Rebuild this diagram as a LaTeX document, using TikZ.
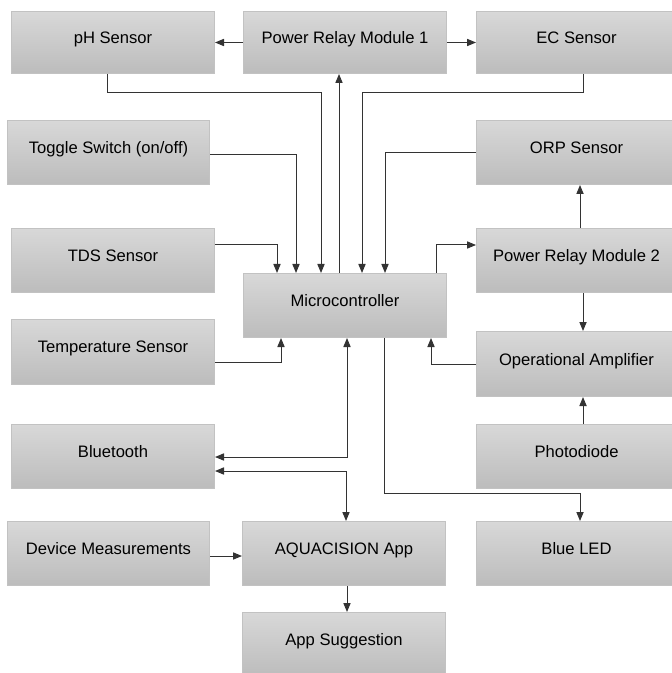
\documentclass[tikz,border=0pt]{standalone}
\usepackage{fontspec}
\setmainfont{Liberation Sans}
\usetikzlibrary{arrows.meta}
\definecolor{boxtop}{HTML}{D8D8D8}
\definecolor{boxbot}{HTML}{BCBCBC}
\definecolor{boxline}{HTML}{C2C2C2}
\definecolor{wire}{HTML}{333333}
\begin{document}
\begin{tikzpicture}[x=0.5pt,y=-0.5pt,
  box/.style={draw=boxline, line width=0.5pt, top color=boxtop, bottom color=boxbot,
    anchor=north west, inner sep=0pt, font=\fontsize{8.3pt}{10pt}\selectfont, text=black},
  arr/.style={draw=wire, line width=0.5pt, -{Triangle[length=4.5pt,width=3.6pt]}},
  darr/.style={draw=wire, line width=0.5pt, {Triangle[length=4.5pt,width=3.6pt]}-{Triangle[length=4.5pt,width=3.6pt]}},
  line/.style={draw=wire, line width=0.5pt}]
\useasboundingbox (0,0) rectangle (672,673);
% boxes: width/height in px * 0.5pt
\newcommand{\mybox}[7]{\node[box, minimum width=#4*0.5pt, minimum height=#5*0.5pt] (#1) at (#2,#3) {\raisebox{#7}{#6}};}
\mybox{ph}{11}{11}{203}{62}{pH Sensor}{5pt}
\mybox{prm1}{243}{11}{203}{62}{Power Relay Module 1}{5pt}
\mybox{ec}{476}{11}{200}{62}{EC Sensor}{5pt}
\mybox{toggle}{7}{120}{202}{64}{Toggle Switch (on/off)}{5pt}
\mybox{orp}{476}{120}{200}{64}{ORP Sensor}{5pt}
\mybox{tds}{11}{228}{203}{64}{TDS Sensor}{5pt}
\mybox{prm2}{476}{228}{200}{64}{Power Relay Module 2}{5pt}
\mybox{micro}{243}{273}{203}{64}{Microcontroller}{5pt}
\mybox{temp}{11}{319}{203}{65}{Temperature Sensor}{5pt}
\mybox{opamp}{476}{331}{200}{65}{Operational Amplifier}{5pt}
\mybox{bt}{11}{424}{203}{64}{Bluetooth}{5pt}
\mybox{photo}{476}{424}{200}{64}{Photodiode}{5pt}
\mybox{dev}{7}{521}{202}{64}{Device Measurements}{5pt}
\mybox{app}{242}{521}{203}{64}{AQUACISION App}{5pt}
\mybox{led}{476}{521}{200}{64}{Blue LED}{5pt}
\mybox{sugg}{242}{612}{203}{64}{App Suggestion}{5.5pt}
% connectors
\draw[arr] (prm1.west) -- (ph.east);
\draw[arr] (prm1.east) -- (ec.west);
\draw[arr] (ph.south -| 107,0) -- (107,93) -| (micro.north -| 321,0);
\draw[arr] (micro.north -| 339,0) -- (prm1.south -| 339,0);
\draw[arr] (ec.south -| 583,0) -- (583,93) -| (micro.north -| 362,0);
\draw[arr] (orp.west) -| (micro.north -| 385,0);
\draw[arr] (toggle.east |- 0,155) -| (micro.north -| 296,0);
\draw[arr] (tds.east |- 0,245) -| (micro.north -| 277,0);
\draw[arr] (temp.east |- 0,362) -| (micro.south -| 281,0);
\draw[arr] (micro.north -| 436,0) |- (prm2.west |- 0,245);
\draw[arr] (prm2.south -| 583,0) -- (opamp.north -| 583,0);
\draw[arr] (prm2.north -| 580,0) -- (orp.south -| 580,0);
\draw[arr] (opamp.west) -| (micro.south -| 431,0);
\draw[arr] (photo.north -| 583,0) -- (opamp.south -| 583,0);
\draw[darr] (micro.south -| 347,0) |- (bt.east |- 0,457);
\draw[darr] (bt.east |- 0,471) -| (app.north -| 346,0);
\draw[arr] (micro.south -| 384,0) -- (384,493) -| (led.north -| 580,0);
\draw[arr] (dev.east |- 0,556) -- (app.west |- 0,556);
\draw[arr] (app.south -| 347,0) -- (sugg.north -| 347,0);
\end{tikzpicture}
\end{document}
